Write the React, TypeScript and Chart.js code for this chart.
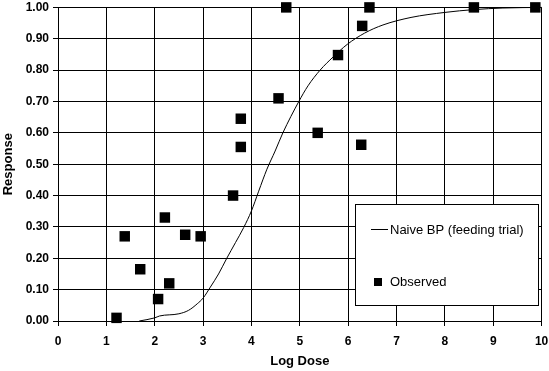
import React, { useEffect, useRef } from "react";
import { Chart, registerables } from "chart.js";

Chart.register(...registerables);

const observedX = [1.21, 1.38, 1.7, 2.07, 2.21, 2.3, 2.63, 2.95, 3.62, 3.78, 3.78, 4.56, 4.72, 5.37, 5.79, 6.27, 6.29, 6.44, 8.6, 9.87];
const observedY = [0.01, 0.27, 0.165, 0.07, 0.33, 0.12, 0.275, 0.27, 0.4, 0.645, 0.555, 0.71, 1.0, 0.6, 0.848, 0.562, 0.941, 1.0, 1.0, 1.0];

const curveX = [1.68, 2.0, 2.1, 2.5, 2.7, 2.88, 3.0, 3.15, 3.32, 3.49, 3.67, 3.84, 4.0, 4.15, 4.32, 4.49, 4.65, 4.98, 5.17, 5.42, 5.69, 5.98, 6.34, 6.72, 7.3, 8.0, 8.6, 9.2, 10.0];
const curveY = [0.0, 0.01, 0.016, 0.023, 0.034, 0.055, 0.073, 0.108, 0.15, 0.2, 0.25, 0.298, 0.351, 0.414, 0.484, 0.542, 0.6, 0.7, 0.75, 0.8, 0.842, 0.882, 0.918, 0.944, 0.968, 0.984, 0.993, 0.998, 1.0];

const xTicks = [0, 1, 2, 3, 4, 5, 6, 7, 8, 9, 10];
const yTickLabels = ["0.00", "0.10", "0.20", "0.30", "0.40", "0.50", "0.60", "0.70", "0.80", "0.90", "1.00"];

const seriesNames = ["Naive BP (feeding trial)", "Observed"];

const FONT = "'Liberation Sans', Arial, sans-serif";

const legendPlugin = {
  id: "boxLegend",
  afterDraw(chart: any) {
    const ctx = chart.ctx;
    ctx.save();
    ctx.fillStyle = "#ffffff";
    ctx.strokeStyle = "#000000";
    ctx.lineWidth = 1;
    ctx.fillRect(355, 204, 184, 102);
    ctx.strokeRect(355.5, 204.5, 183, 101);
    ctx.beginPath();
    ctx.moveTo(371, 229.5);
    ctx.lineTo(388, 229.5);
    ctx.stroke();
    ctx.fillStyle = "#000000";
    ctx.fillRect(374, 278, 8, 8);
    ctx.font = "13px " + FONT;
    ctx.textBaseline = "middle";
    ctx.textAlign = "left";
    ctx.fillText(seriesNames[0], 390, 230);
    ctx.fillText(seriesNames[1], 390, 282);
    ctx.restore();
  },
};

export default function App() {
  const ref = useRef<HTMLCanvasElement | null>(null);
  useEffect(() => {
    document.body.style.margin = "0";
    const canvas = ref.current;
    if (!canvas) return;
    const chart = new Chart(canvas, {
      type: "scatter",
      data: {
        datasets: [
          {
            label: seriesNames[1],
            data: observedX.map((x, i) => ({ x, y: observedY[i] })),
            pointStyle: "rect",
            pointRadius: 7.4,
            pointBorderWidth: 0,
            backgroundColor: "#000000",
            borderColor: "#000000",
            clip: false,
            order: 0,
          } as any,
          {
            label: seriesNames[0],
            data: curveX.map((x, i) => ({ x, y: curveY[i] })),
            showLine: true,
            pointRadius: 0,
            borderColor: "#000000",
            borderWidth: 1,
            cubicInterpolationMode: "monotone",
            clip: false,
            order: 1,
          } as any,
        ],
      },
      options: {
        responsive: false,
        animation: false,
        devicePixelRatio: 1,
        layout: { padding: { top: 5, right: 6, left: 0, bottom: 0 } },
        plugins: {
          legend: { display: false },
          tooltip: { enabled: false },
        },
        scales: {
          x: {
            type: "linear",
            min: 0,
            max: 10,
            afterBuildTicks: (scale: any) => {
              scale.ticks = xTicks.map((v) => ({ value: v }));
            },
            afterFit: (scale: any) => {
              scale.height = 50;
              scale.paddingLeft = 0;
              scale.paddingRight = 0;
            },
            ticks: {
              color: "#000000",
              font: { family: FONT, size: 12, weight: "bold" },
              padding: 8,
              maxRotation: 0,
              callback: (v: any) => String(v),
            },
            grid: {
              color: "#000000",
              lineWidth: 1,
              tickLength: 5,
              tickColor: "#000000",
            },
            border: { color: "#000000", width: 1 },
            title: {
              display: true,
              text: "Log Dose",
              color: "#000000",
              font: { family: FONT, size: 13, weight: "bold" },
              padding: { top: 4, bottom: 2 },
            },
          },
          y: {
            type: "linear",
            min: 0,
            max: 1,
            afterBuildTicks: (scale: any) => {
              scale.ticks = yTickLabels.map((_, i) => ({ value: i / 10 }));
            },
            afterFit: (scale: any) => {
              scale.width = 58;
              scale.paddingTop = 0;
              scale.paddingBottom = 0;
            },
            ticks: {
              color: "#000000",
              font: { family: FONT, size: 12, weight: "bold" },
              padding: 4,
              callback: (_v: any, i: number) => yTickLabels[i],
            },
            grid: {
              color: "#000000",
              lineWidth: 1,
              tickLength: 5,
              tickColor: "#000000",
            },
            border: { color: "#000000", width: 1 },
            title: {
              display: true,
              text: "Response",
              color: "#000000",
              font: { family: FONT, size: 13, weight: "bold" },
              padding: { top: 1, bottom: 2 },
            },
          },
        },
      },
      plugins: [legendPlugin],
    });
    return () => chart.destroy();
  }, []);
  return (
    <div style={{ position: "absolute", left: 0, top: 0, width: 549, height: 371, background: "#ffffff" }}>
      <canvas ref={ref} width={549} height={371} style={{ width: 549, height: 371, display: "block" }} />
    </div>
  );
}
